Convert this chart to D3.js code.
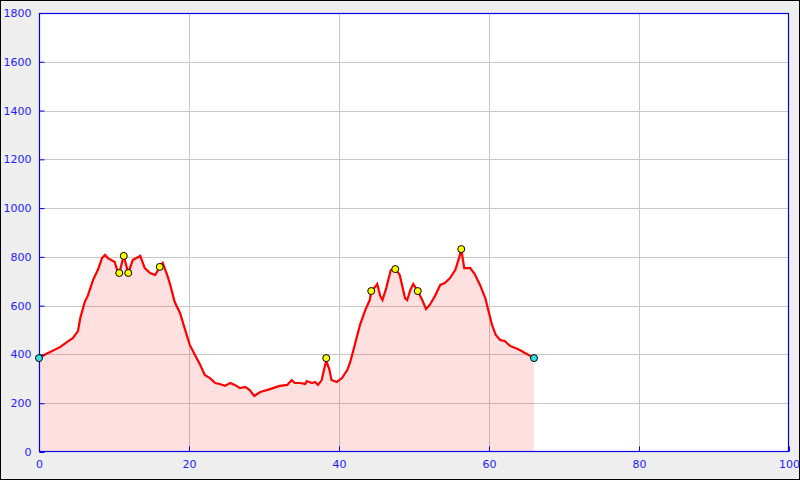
<!DOCTYPE html>
<html><head><meta charset="utf-8">
<script src="https://cdn.jsdelivr.net/npm/d3@7"></script>
<style>
html,body{margin:0;padding:0;background:#eeeeee;}
svg{display:block;}
</style></head>
<body>
<svg id="chart" width="800" height="480"></svg>
<script>
const distance = [0,0.8,2.8,3.9,4.5,5.2,5.5,6.1,6.5,7.2,7.9,8.4,8.8,9.2,10.1,10.5,10.7,11.3,11.9,12.5,13.5,14.1,14.8,15.5,16.1,16.5,17.1,17.5,18.1,18.8,19.5,20.1,20.8,21.5,22.1,22.8,23.5,24.1,24.8,25.5,26.1,26.8,27.5,28.1,28.7,29.5,30.8,32.1,33.1,33.7,34.1,34.8,35.5,35.7,36.4,36.8,37.2,37.7,37.9,38.3,38.7,39.0,39.7,40.4,41.1,41.5,42.1,42.8,43.5,44.1,44.3,44.8,45.1,45.5,45.8,46.3,46.9,47.5,48.1,48.8,49.1,49.5,49.9,50.5,51.1,51.6,52.1,52.8,53.5,54.1,54.8,55.5,56.0,56.3,56.7,57.5,58.1,58.8,59.5,59.9,60.4,60.9,61.5,62.1,62.8,63.5,64.1,64.8,65.5,66.0];
const elevation = [385,400,430,455,467,496,549,615,640,705,750,795,808,795,779,738,734,804,734,787,804,754,734,726,759,775,725,685,615,570,500,439,398,357,316,303,283,279,271,283,275,262,267,254,230,246,258,271,275,295,283,283,279,291,283,287,275,295,324,375,340,295,287,303,336,369,439,521,582,623,660,676,689,640,623,672,746,750,726,631,623,664,689,660,623,586,603,640,685,693,713,746,795,832,754,754,730,685,631,582,521,480,459,455,435,426,418,406,394,385];
const markerX = [0,10.7,11.3,11.9,16.1,38.3,44.3,47.5,50.5,56.3,66.0];
const markerY = [385,734,804,734,759,385,660,750,660,832,385];
const markerColor = ["#33e0e8","yellow","yellow","yellow","yellow","yellow","yellow","yellow","yellow","yellow","#33e0e8"];
const xTicks = [0,20,40,60,80,100];
const yTicks = [0,200,400,600,800,1000,1200,1400,1600,1800];

const svg = d3.select("#chart");
const W = 800, H = 480;
const L = 39, R = 789, T = 13, B = 452;

svg.append("rect").attr("x",0.5).attr("y",0.5).attr("width",W-1).attr("height",H-1)
  .attr("fill","#eeeeee").attr("stroke","#000").attr("stroke-width",1);

const x = d3.scaleLinear().domain([0,100]).range([L,R]);
const y = d3.scaleLinear().domain([0,1800]).range([B,T]);

svg.append("rect").attr("x",L).attr("y",T).attr("width",R-L).attr("height",B-T).attr("fill","#fff");

// grid
const g = svg.append("g");
g.selectAll("line.gx").data(xTicks.slice(1,-1)).join("line")
  .attr("x1",d=>Math.round(x(d))+0.5).attr("x2",d=>Math.round(x(d))+0.5)
  .attr("y1",T).attr("y2",B).attr("stroke","#c8c8c8").attr("stroke-width",1);
g.selectAll("line.gy").data(yTicks.slice(1,-1)).join("line")
  .attr("y1",d=>Math.round(y(d))+0.5).attr("y2",d=>Math.round(y(d))+0.5)
  .attr("x1",L).attr("x2",R).attr("stroke","#c8c8c8").attr("stroke-width",1);

const pts = distance.map((d,i)=>[d,elevation[i]]);
const area = d3.area().x(d=>x(d[0])).y0(y(0)).y1(d=>y(d[1]));
svg.append("path").datum(pts).attr("d",area).attr("fill","rgba(255,0,0,0.12)");
const line = d3.line().x(d=>x(d[0])).y(d=>y(d[1]));
svg.append("path").datum(pts).attr("d",line).attr("fill","none").attr("stroke","#ff0000")
  .attr("stroke-width",2.2).attr("stroke-linejoin","miter");

// frame
svg.append("rect").attr("x",L+0.5).attr("y",T+0.5).attr("width",R-L-1).attr("height",B-T-1)
  .attr("fill","none").attr("stroke","#0000ee").attr("stroke-width",1.2);

// axes
const yAxis = d3.axisLeft(y).tickValues(yTicks).tickSize(-5).tickPadding(8).tickFormat(d3.format("d"));
const ya = svg.append("g").attr("transform",`translate(${L+0.5},0)`).call(yAxis);
const xAxis = d3.axisBottom(x).tickValues(xTicks).tickSize(-5).tickPadding(9).tickFormat(d3.format("d"));
const xa = svg.append("g").attr("transform",`translate(0,${B-0.5})`).call(xAxis);
[ya,xa].forEach(a=>{
  a.select(".domain").remove();
  a.selectAll(".tick line").attr("stroke","#0000ee");
  a.selectAll(".tick text").attr("fill","#2222ff").style("font-family","DejaVu Sans").style("font-size","11px");
});

// markers
svg.selectAll("circle.m").data(markerX).join("circle")
  .attr("cx",d=>x(d)).attr("cy",(d,i)=>y(markerY[i])).attr("r",3.5)
  .attr("fill",(d,i)=>markerColor[i]).attr("stroke","#000").attr("stroke-width",1);
</script>
</body></html>
